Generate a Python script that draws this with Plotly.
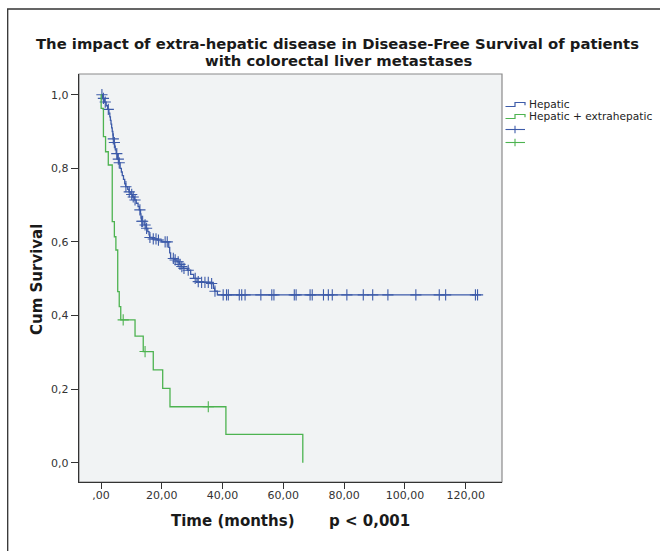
import numpy as np
import plotly.graph_objects as go

# ---------------- data ----------------
series_names = ["Hepatic", "Hepatic + extrahepatic"]

hep_event_t = [0.5, 1.1, 1.7, 2.2, 2.6, 2.9, 3.1, 3.3, 3.5, 3.7, 3.9, 4.0, 4.3, 4.5, 4.7,
               5.0, 5.4, 5.9, 6.3, 6.7, 7.0, 7.4, 7.8, 8.1, 8.8, 9.2, 9.8, 10.4, 11.0,
               11.6, 12.2, 12.6, 13.0, 13.15, 13.3, 14.2, 14.8, 15.4, 15.8, 16.0, 16.9,
               18.5, 20.0, 22.3, 22.6, 22.9, 24.2, 25.0, 25.8, 26.4, 27.1, 28.4, 29.5,
               30.5, 31.6, 33.0, 36.0, 37.0, 37.4, 38.3]
hep_event_s = [0.99, 0.98, 0.97, 0.96, 0.95, 0.94, 0.93, 0.92, 0.91, 0.90, 0.89, 0.88, 0.87,
               0.86, 0.85, 0.84, 0.825, 0.815, 0.80, 0.79, 0.78, 0.77, 0.758, 0.75, 0.743,
               0.736, 0.729, 0.722, 0.714, 0.705, 0.696, 0.687, 0.676, 0.665, 0.656, 0.646,
               0.637, 0.628, 0.619, 0.612, 0.608, 0.605, 0.60, 0.585, 0.57, 0.555, 0.551,
               0.546, 0.539, 0.533, 0.528, 0.523, 0.512, 0.501, 0.492, 0.490, 0.487, 0.474,
               0.466, 0.456]
hep_cens_t = [0.3, 0.8, 1.4, 2.4, 4.05, 4.4, 5.2, 5.7, 6.0, 8.2, 9.3, 10.1, 10.6, 11.2,
              12.8, 13.4, 13.7, 14.5, 15.0, 16.1, 17.2, 18.1, 18.9, 21.1, 21.8, 23.8, 24.4,
              25.4, 26.0, 26.6, 27.3, 28.7, 31.0, 32.0, 33.1, 34.2, 35.3, 36.4, 37.5,
              40.2, 41.3, 41.9, 45.5, 46.3, 47.4, 52.6, 56.2, 56.9, 63.6, 64.2, 68.8, 69.5,
              73.2, 74.8, 76.1, 80.9, 86.3, 89.4, 94.4, 103.6, 111.3, 113.4, 123.2, 123.9]
hep_last_t = 123.9

ext_event_t = [0.05, 0.8, 1.5, 2.4, 3.7, 4.4, 4.9, 5.5, 6.0, 6.5, 11.2, 13.9, 17.2, 20.3,
               22.7, 41.1, 66.4]
ext_event_s = [0.963, 0.886, 0.845, 0.809, 0.655, 0.614, 0.578, 0.465, 0.424, 0.388, 0.344,
               0.302, 0.252, 0.202, 0.152, 0.077, 0.0]
ext_cens_t = [7.3, 14.5, 35.3]
ext_last_t = 66.4

x_tickvals = [0, 20, 40, 60, 80, 100, 120]
x_ticktext = [",00", "20,00", "40,00", "60,00", "80,00", "100,00", "120,00"]
y_tickvals = [0.0, 0.2, 0.4, 0.6, 0.8, 1.0]
y_ticktext = ["0,0", "0,2", "0,4", "0,6", "0,8", "1,0"]

title_line1 = "The impact of extra-hepatic disease in Disease-Free Survival of patients"
title_line2 = "with colorectal liver metastases"
x_title = "Time (months)"
p_text = "p < 0,001"
y_title = "Cum Survival"

# ---------------- styling ----------------
BLUE = "#3D5BA9"
GREEN = "#4DB350"
W, H = 660, 551
ML, MR, MT, MB = 79, 158, 74, 69
PW, PH = W - ML - MR, H - MT - MB
BOLD_FONT = "DejaVu Sans, sans-serif"
TICK_FONT = "DejaVu Sans, sans-serif"


def px(xp):
    return (xp - ML) / PW


def py(yp):
    return (H - MB - yp) / PH


def step_value(ev_t, ev_s, t):
    idx = np.searchsorted(np.asarray(ev_t), t, side="right")
    return 1.0 if idx == 0 else ev_s[idx - 1]


def km_line(ev_t, ev_s, last_t):
    xs = [0.0] + list(ev_t) + [last_t]
    ys = [1.0] + list(ev_s) + [ev_s[-1]]
    return xs, ys


fig = go.Figure()

for name, ev_t, ev_s, cens, last_t, col in [
    (series_names[0], hep_event_t, hep_event_s, hep_cens_t, hep_last_t, BLUE),
    (series_names[1], ext_event_t, ext_event_s, ext_cens_t, ext_last_t, GREEN),
]:
    xs, ys = km_line(ev_t, ev_s, last_t)
    fig.add_trace(go.Scatter(x=xs, y=ys, mode="lines", line=dict(color=col, width=1.3, shape="hv"),
                             name=name, showlegend=False, hoverinfo="skip"))
    cy = [step_value(ev_t, ev_s, t) for t in cens]
    fig.add_trace(go.Scatter(x=cens, y=cy, mode="markers",
                             marker=dict(symbol="cross-thin", size=8, line=dict(color=col, width=1.1)),
                             name=name + " censored", showlegend=False, hoverinfo="skip"))

x0_pix, x120_pix = 101.0, 465.7
xs_per = (x120_pix - x0_pix) / 120.0
y1_pix, y0_pix = 94.7, 462.7
ys_per = (y0_pix - y1_pix)
x_range = [(ML - x0_pix) / xs_per, (W - MR - x0_pix) / xs_per]
y_range = [(y0_pix - (H - MB)) / ys_per, (y0_pix - MT) / ys_per]

axis_common = dict(showgrid=False, zeroline=False, showline=True, linecolor="#333333", linewidth=1.4,
                   ticks="outside", tickcolor="#333333", tickwidth=1,
                   tickfont=dict(family=TICK_FONT, size=11, color="#333333"))
fig.update_xaxes(range=x_range, tickvals=x_tickvals, ticktext=x_ticktext, ticklen=6,
                 ticklabelstandoff=-3, **axis_common)
fig.update_yaxes(range=y_range, tickvals=y_tickvals, ticktext=y_ticktext, ticklen=7, **axis_common)

shapes = [
    # plot box (top/right lighter)
    dict(type="rect", xref="paper", yref="paper", x0=0, x1=1, y0=0, y1=1,
         line=dict(color="#8a8a8a", width=1.2), layer="below"),
    # outer frame
    dict(type="rect", xref="paper", yref="paper", x0=px(7.7), x1=px(670), y0=py(560), y1=py(9),
         line=dict(color="#333333", width=1.3), layer="below"),
]

# manual legend
leg_x0, leg_xm, leg_x1 = 505.5, 515.0, 525.0
rows = [104.5, 116.5, 129.5, 142.5]
cols = [BLUE, GREEN]
for i in range(2):
    yc = rows[i]
    path = (f"M {px(leg_x0)},{py(yc + 2)} L {px(leg_xm)},{py(yc + 2)} L {px(leg_xm)},{py(yc - 2)} "
            f"L {px(leg_x1)},{py(yc - 2)} L {px(leg_x1)},{py(yc + 0.8)}")
    shapes.append(dict(type="path", xref="paper", yref="paper", path=path,
                       line=dict(color=cols[i], width=1.2)))
for i in range(2):
    yc = rows[2 + i]
    shapes.append(dict(type="line", xref="paper", yref="paper", x0=px(leg_x0), x1=px(leg_x1),
                       y0=py(yc), y1=py(yc), line=dict(color=cols[i], width=1.1)))
    shapes.append(dict(type="line", xref="paper", yref="paper", x0=px(leg_xm), x1=px(leg_xm),
                       y0=py(yc - 3.8), y1=py(yc + 3.8), line=dict(color=cols[i], width=1.1)))

big = dict(family=BOLD_FONT, size=15, color="#1a1a1a")
ttl = dict(family=BOLD_FONT, size=14.8, color="#1a1a1a")
annotations = [
    dict(text="<b>" + title_line1 + "</b>", x=px(337), y=py(43), xref="paper", yref="paper",
         showarrow=False, xanchor="center", yanchor="middle", font=ttl),
    dict(text="<b>" + title_line2 + "</b>", x=px(338.5), y=py(61), xref="paper", yref="paper",
         showarrow=False, xanchor="center", yanchor="middle", font=ttl),
    dict(text="<b>" + y_title + "</b>", x=px(37), y=py(280), xref="paper", yref="paper",
         showarrow=False, xanchor="center", yanchor="middle", textangle=-90, font=big),
    dict(text="<b>" + x_title + "</b>", x=px(233), y=py(521), xref="paper", yref="paper",
         showarrow=False, xanchor="center", yanchor="middle", font=big),
    dict(text="<b>" + p_text + "</b>", x=px(369), y=py(521), xref="paper", yref="paper",
         showarrow=False, xanchor="center", yanchor="middle", font=big),
]
for i in range(2):
    annotations.append(dict(text=series_names[i], x=px(527), y=py(rows[i]), xref="paper", yref="paper",
                            showarrow=False, xanchor="left", yanchor="middle",
                            font=dict(family=TICK_FONT, size=10.6, color="#222222")))

fig.update_layout(width=W, height=H, margin=dict(l=ML, r=MR, t=MT, b=MB, pad=0),
                  paper_bgcolor="white", plot_bgcolor="#F1F3F4",
                  shapes=shapes, annotations=annotations, showlegend=False)

fig.write_html("out.html", config={"displayModeBar": False},
               post_script="document.body.style.margin='0';document.body.style.overflow='hidden';")
